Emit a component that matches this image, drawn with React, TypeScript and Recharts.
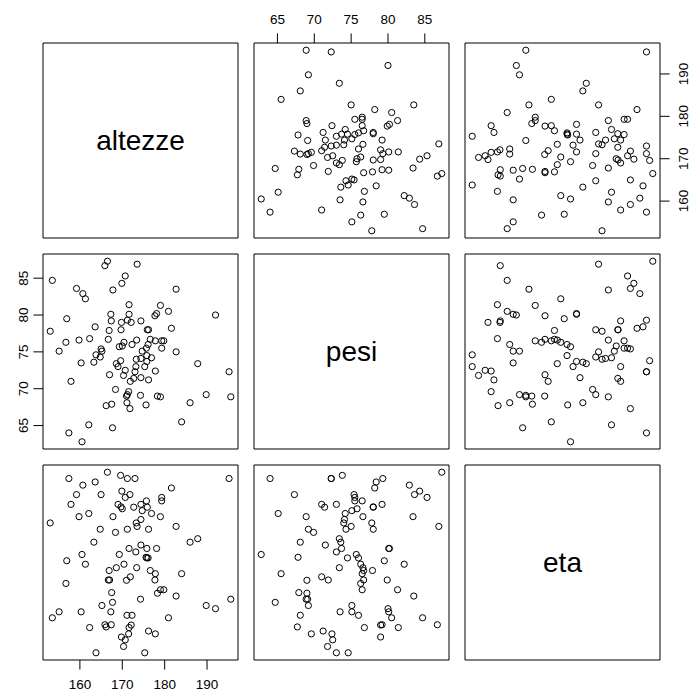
import React from "react";
import {
  ScatterChart,
  Scatter,
  XAxis,
  YAxis,
  ReferenceArea,
} from "recharts";

// one row per person: height (cm), weight (kg), age (years)
const altezze = [
  153.0, 153.5, 155.1, 156.7, 156.9, 157.4, 157.9, 159.2, 159.8, 160.3,
  160.5, 160.7, 161.3, 162.1, 162.3, 163.3, 163.6, 163.8, 164.8, 165.0,
  165.2, 165.9, 166.2, 166.5, 166.7, 166.9, 167.0, 167.3, 167.4, 167.5,
  167.7, 167.8, 168.4, 168.6, 169.0, 169.3, 169.6, 169.7, 169.8, 169.9,
  170.0, 170.3, 170.4, 170.7, 170.7, 171.0, 171.1, 171.2, 171.2, 171.5,
  171.6, 171.6, 171.8, 171.9, 172.1, 172.3, 172.7, 173.2, 173.3, 173.4,
  173.5, 173.0, 174.3, 174.4, 174.4, 174.4, 174.7, 175.3, 175.6, 175.7,
  175.8, 175.8, 175.9, 176.1, 176.2, 176.2, 176.6, 176.9, 177.7, 177.8,
  177.8, 178.1, 178.3, 179.0, 179.0, 179.3, 179.3, 179.8, 180.9, 181.6,
  182.7, 182.7, 184.0, 186.0, 187.8, 189.8, 192.0, 195.2, 195.6,
];

const pesi = [
  77.8, 84.7, 75.1, 76.3, 79.5, 64.0, 71.0, 83.6, 76.6, 73.5,
  62.8, 82.9, 82.2, 65.1, 76.8, 73.6, 78.4, 74.6, 74.3, 75.4,
  75.1, 86.7, 67.7, 87.3, 76.7, 77.9, 71.9, 80.1, 79.2, 67.9,
  64.7, 83.4, 69.9, 73.4, 73.0, 75.7, 73.8, 78.0, 79.0, 84.3,
  75.8, 71.8, 76.3, 85.3, 72.5, 69.0, 68.1, 79.3, 69.2, 69.6,
  81.4, 80.1, 67.3, 71.0, 79.0, 76.0, 71.4, 73.0, 74.0, 76.6,
  86.9, 72.3, 69.1, 79.2, 74.1, 71.5, 75.1, 73.0, 67.8, 75.5,
  73.7, 74.5, 78.0, 76.0, 71.2, 78.0, 76.7, 74.2, 79.9, 76.5,
  72.4, 80.2, 69.0, 81.3, 68.9, 76.5, 75.5, 76.5, 80.5, 78.2,
  83.5, 75.0, 65.5, 68.1, 73.4, 69.2, 80.0, 72.3, 68.9,
];

const eta = [
  59.1, 29.0, 30.9, 39.9, 47.1, 73.2, 65.0, 68.1, 61.1, 30.9,
  49.1, 71.1, 46.0, 62.1, 25.9, 53.0, 72.1, 17.9, 57.1, 68.1,
  32.9, 26.8, 26.1, 75.2, 41.0, 44.0, 41.0, 30.9, 26.8, 37.0,
  33.9, 61.1, 56.1, 44.9, 65.0, 49.1, 74.2, 64.2, 22.9, 69.2,
  63.6, 19.9, 46.0, 67.2, 22.0, 40.9, 29.8, 73.2, 57.1, 23.9,
  25.9, 51.0, 68.1, 42.0, 26.7, 29.8, 64.1, 49.9, 59.1, 44.9,
  58.0, 73.2, 34.9, 65.0, 60.2, 52.1, 63.0, 17.9, 48.2, 66.1,
  51.0, 48.0, 64.1, 48.0, 24.8, 57.1, 44.0, 62.1, 41.0, 43.0,
  23.9, 51.0, 36.8, 37.9, 61.1, 66.1, 67.2, 37.9, 29.0, 70.2,
  35.9, 58.0, 43.0, 53.0, 54.1, 32.9, 31.9, 73.2, 34.9,
];

const labels = ["altezze", "pesi", "eta"];
const altezzeTicks = [160, 170, 180, 190];
const pesiTicks = [65, 70, 75, 80, 85];
const etaTicks = [20, 30, 40, 50, 60, 70];

const vars = [altezze, pesi, eta];
const tickSets = [altezzeTicks, pesiTicks, etaTicks];

const FONT = "'Liberation Sans', Arial, Helvetica, sans-serif";
const PANEL = 195;
const STARTS = [43, 254, 465];
const PAD = 40; // room around each plot area for its axis
const TICK = 9.6;

// like R's pairs(): range stretched by 4% on each side
function paddedRange(v: number[]): [number, number] {
  const lo = Math.min(...v);
  const hi = Math.max(...v);
  const pad = (hi - lo) * 0.04;
  return [lo - pad, hi + pad];
}

const AxisTick = (props: any) => {
  const { x, y, payload, vertical } = props;
  return (
    <text
      x={x}
      y={y}
      textAnchor="middle"
      dominantBaseline="central"
      fontSize={13.5}
      fontFamily={FONT}
      fill="#000"
      transform={vertical ? `rotate(-90 ${x} ${y})` : undefined}
    >
      {payload.value}
    </text>
  );
};

const OpenCircle = (props: any) => (
  <circle cx={props.cx} cy={props.cy} r={3.1} fill="none" stroke="#000" strokeWidth={1} />
);

function Panel({ row, col }: { row: number; col: number }) {
  const last = vars.length - 1;
  const diag = row === col;
  // axes alternate between sides, as pairs() does
  const topAxis = row === 0 && col % 2 === 1;
  const bottomAxis = row === last && col % 2 === 0;
  const leftAxis = col === 0 && row % 2 === 1;
  const rightAxis = col === last && row % 2 === 0;
  const showX = !diag && (topAxis || bottomAxis);
  const showY = !diag && (leftAxis || rightAxis);

  const xDom = diag ? ([0, 1] as [number, number]) : paddedRange(vars[col]);
  const yDom = diag ? ([0, 1] as [number, number]) : paddedRange(vars[row]);

  const data = diag
    ? []
    : vars[col].map((v, k) => ({ x: v, y: vars[row][k] }));

  const margin = {
    top: showX && topAxis ? 0 : PAD,
    bottom: showX && bottomAxis ? 0 : PAD,
    left: showY && leftAxis ? 0 : PAD,
    right: showY && rightAxis ? 0 : PAD,
  };

  return (
    <div
      style={{
        position: "absolute",
        left: STARTS[col] - PAD,
        top: STARTS[row] - PAD,
      }}
    >
      <ScatterChart width={PANEL + 2 * PAD} height={PANEL + 2 * PAD} margin={margin}>
        <XAxis
          type="number"
          dataKey="x"
          domain={xDom}
          ticks={diag ? undefined : tickSets[col]}
          interval={0}
          allowDataOverflow
          hide={!showX}
          orientation={topAxis ? "top" : "bottom"}
          height={PAD}
          axisLine={false}
          tickLine={{ stroke: "#000", strokeWidth: 1 }}
          tickSize={TICK}
          tickMargin={14.4}
          tick={<AxisTick />}
        />
        <YAxis
          type="number"
          dataKey="y"
          domain={yDom}
          ticks={diag ? undefined : tickSets[row]}
          interval={0}
          allowDataOverflow
          hide={!showY}
          orientation={leftAxis ? "left" : "right"}
          width={PAD}
          axisLine={false}
          tickLine={{ stroke: "#000", strokeWidth: 1 }}
          tickSize={TICK}
          tickMargin={leftAxis ? 9.4 : 14.4}
          tick={<AxisTick vertical />}
        />
        <ReferenceArea
          x1={xDom[0]}
          x2={xDom[1]}
          y1={yDom[0]}
          y2={yDom[1]}
          fill="none"
          stroke="#000"
          strokeWidth={1}
          fillOpacity={0}
          label={
            diag
              ? {
                  value: labels[row],
                  position: "center",
                  fontSize: 28,
                  fontFamily: FONT,
                  fill: "#000",
                }
              : undefined
          }
        />
        <Scatter data={data} shape={<OpenCircle />} isAnimationActive={false} />
      </ScatterChart>
    </div>
  );
}

export default function App() {
  return (
    <div
      style={{
        position: "absolute",
        left: 0,
        top: 0,
        width: 690,
        height: 693,
        background: "#fff",
      }}
    >
      {vars.map((_, r) =>
        vars.map((__, c) => <Panel key={`${r}-${c}`} row={r} col={c} />)
      )}
    </div>
  );
}
